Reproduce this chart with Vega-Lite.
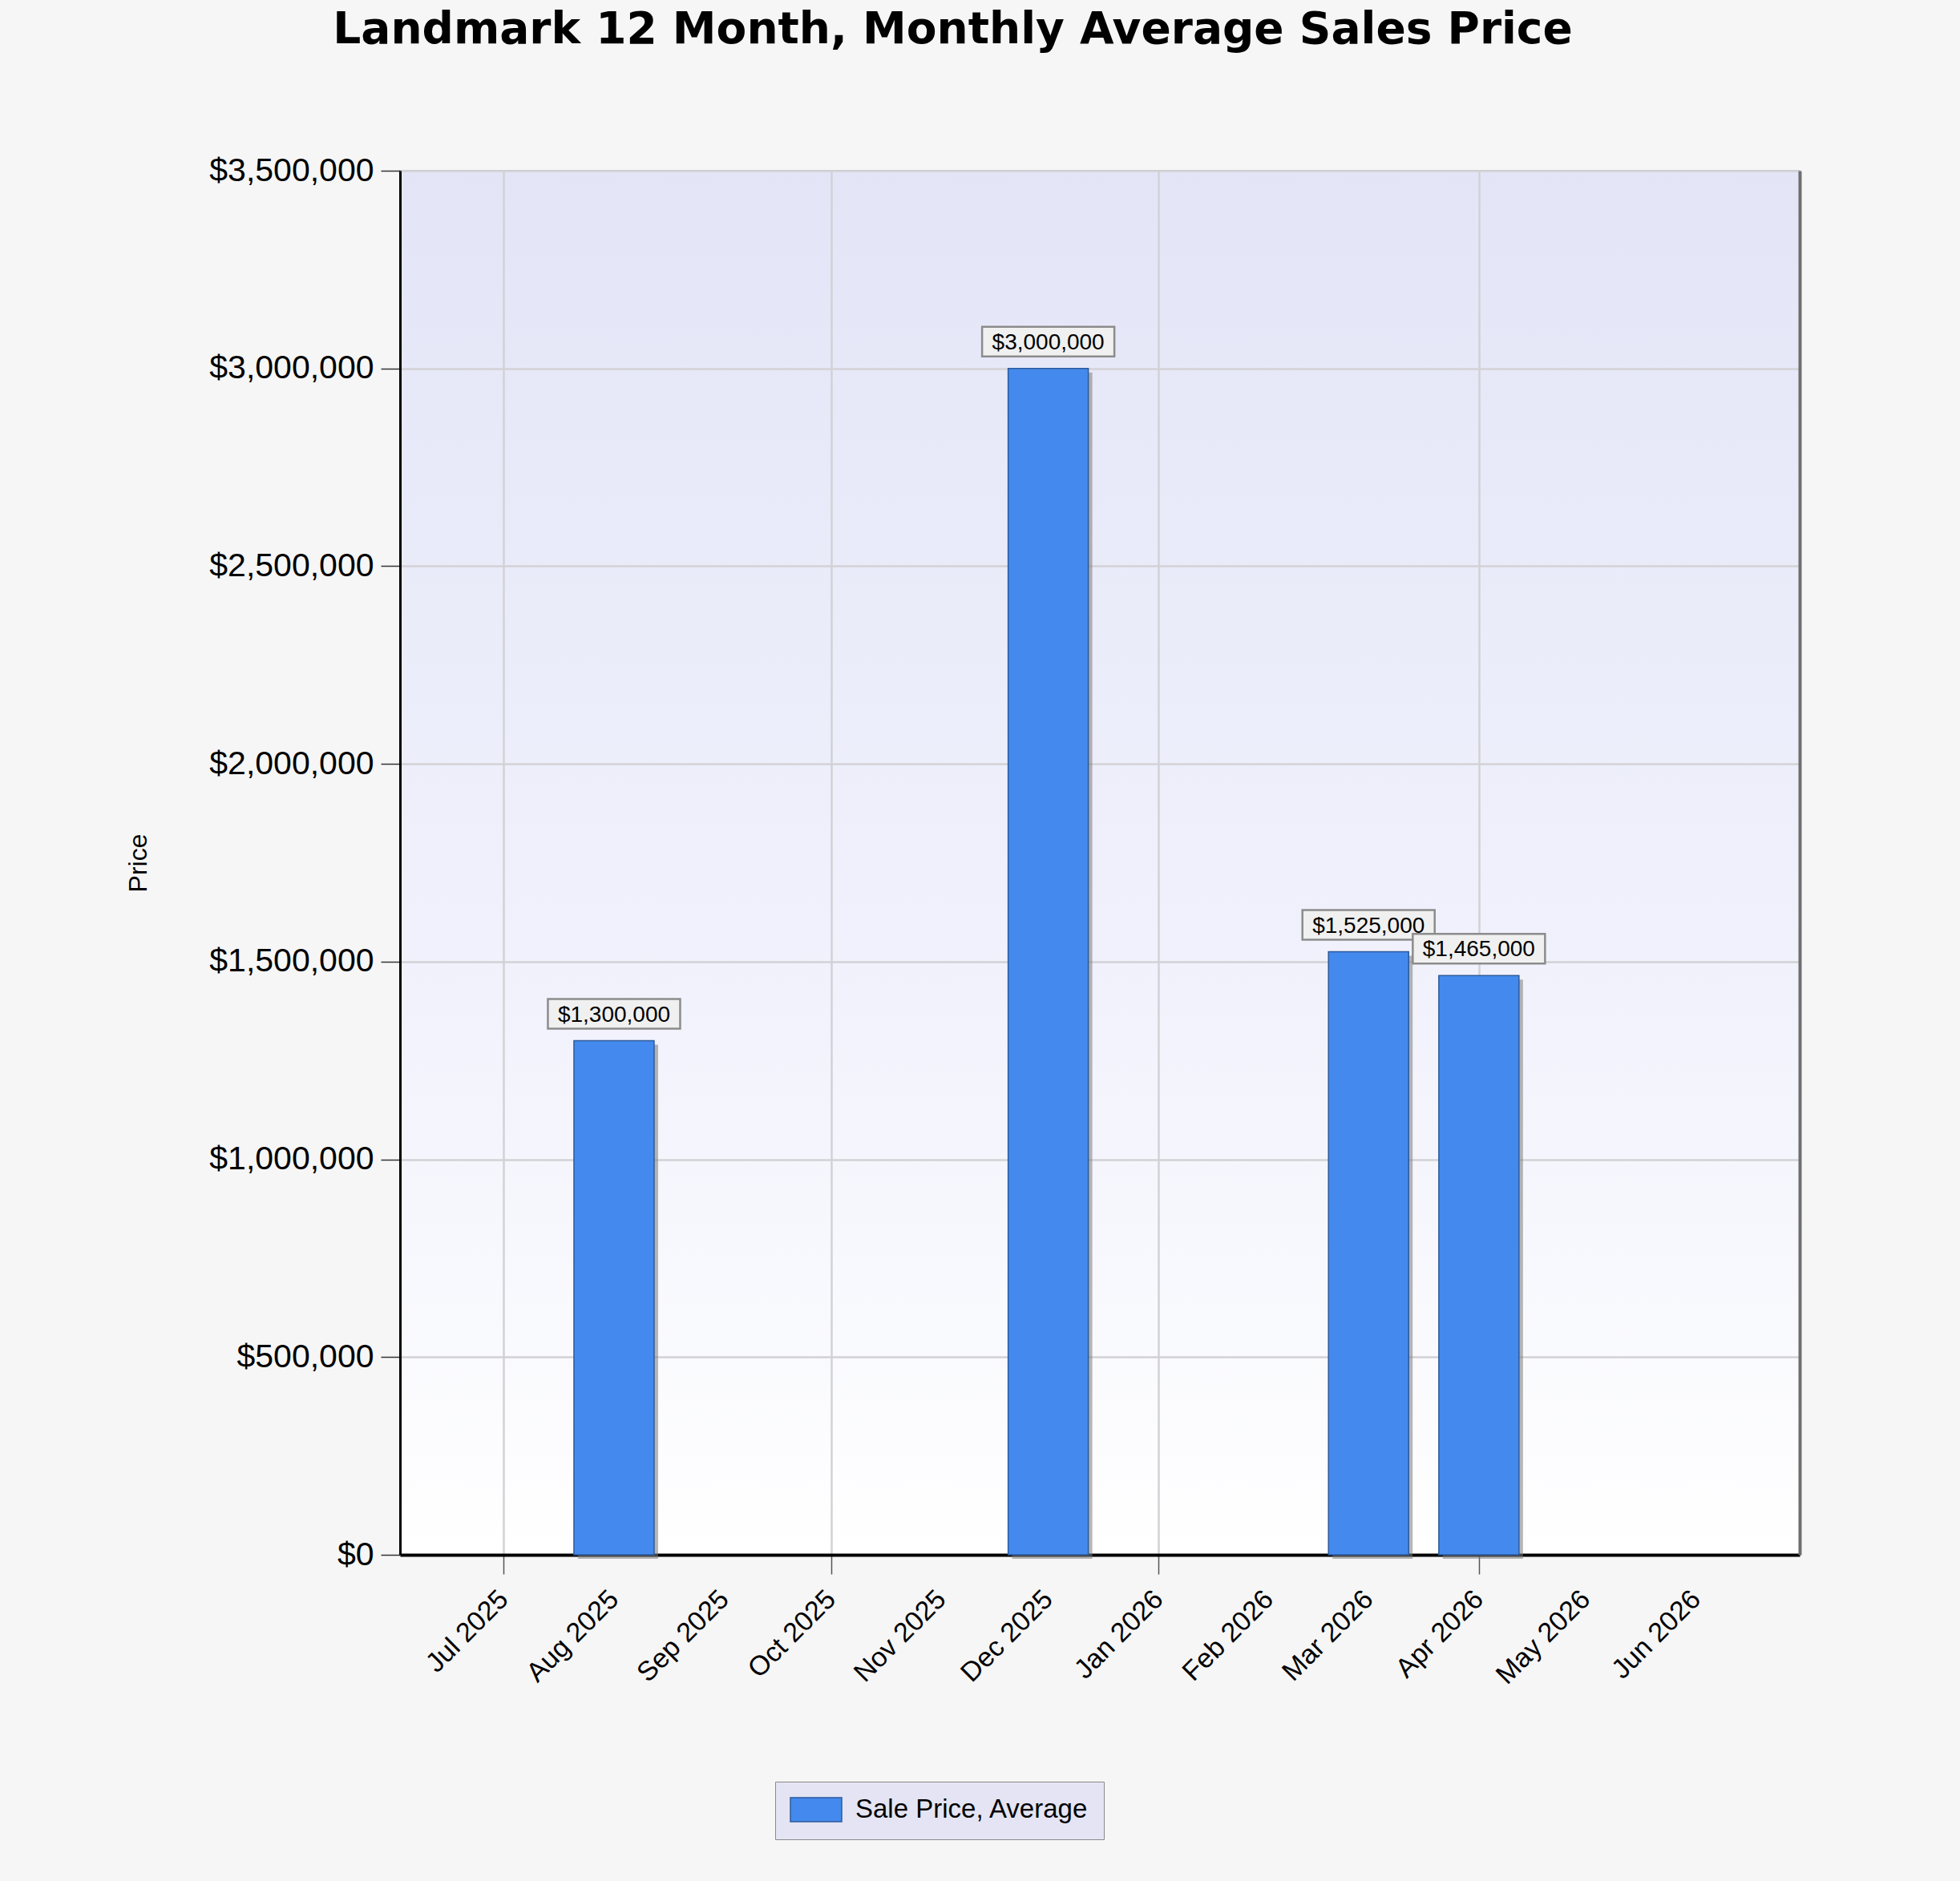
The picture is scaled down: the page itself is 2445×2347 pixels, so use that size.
{
  "$schema": "https://vega.github.io/schema/vega-lite/v6.json",
  "description": "Landmark 12 month, monthly average sales price",
  "width": 1746,
  "height": 1727,
  "autosize": {"type": "none"},
  "padding": {"left": 499, "top": 213, "right": 200, "bottom": 407},
  "background": "#f6f6f6",
  "title": {
    "text": "Landmark 12 Month, Monthly Average Sales Price",
    "font": "DejaVu Sans",
    "fontWeight": "bold",
    "fontSize": 55,
    "color": "#000000",
    "anchor": "middle",
    "frame": "bounds",
    "offset": 126,
    "dx": -12
  },
  "data": {
    "values": [
      {"month": "2025-08-01", "price": 1300000, "series": "Sale Price, Average"},
      {"month": "2025-12-01", "price": 3000000, "series": "Sale Price, Average"},
      {"month": "2026-03-01", "price": 1525000, "series": "Sale Price, Average"},
      {"month": "2026-04-01", "price": 1465000, "series": "Sale Price, Average"}
    ]
  },
  "config": {
    "view": {
      "fill": {
        "gradient": "linear",
        "x1": 0, "y1": 0, "x2": 0, "y2": 1,
        "stops": [
          {"offset": 0, "color": "#e3e5f7"},
          {"offset": 0.6, "color": "#f1f2fc"},
          {"offset": 1, "color": "#ffffff"}
        ]
      },
      "stroke": "#c4c4c8",
      "strokeWidth": 2
    },
    "axis": {
      "zindex": 1,
      "labelFont": "Liberation Sans",
      "labelColor": "#000000",
      "labelLimit": 500,
      "titleFont": "Liberation Sans",
      "titleColor": "#000000",
      "titleFontWeight": "normal",
      "gridColor": "#d2d2d6",
      "gridWidth": 2.5,
      "domainColor": "#000000"
    }
  },
  "encoding": {
    "x": {
      "field": "month",
      "type": "temporal",
      "scale": {
        "type": "utc",
        "domain": [
          {"year": 2025, "month": 6, "date": 3, "utc": true},
          {"year": 2026, "month": 6, "date": 29, "utc": true}
        ]
      },
      "axis": {
        "title": null,
        "format": "%b %Y",
        "tickCount": {"interval": "month", "step": 1},
        "labelAngle": -45,
        "labelAlign": "right",
        "labelBaseline": "middle",
        "labelFontSize": 34,
        "labelPadding": 26,
        "labelOverlap": false,
        "labelFlush": false,
        "tickSize": 24,
        "tickColor": "#555555",
        "tickWidth": 1.5,
        "tickOpacity": {"condition": {"test": "utcmonth(datum.value) % 3 == 0", "value": 1}, "value": 0},
        "grid": true,
        "gridOpacity": {"condition": {"test": "utcmonth(datum.value) % 3 == 0", "value": 1}, "value": 0},
        "domainWidth": 4
      }
    }
  },
  "layer": [
    {
      "mark": {"type": "bar", "width": 100, "color": "#7c7c7c", "opacity": 0.55, "xOffset": 5, "yOffset": 5},
      "encoding": {
        "y": {
          "field": "price",
          "type": "quantitative",
          "scale": {"domain": [0, 3500000]},
          "axis": {
            "title": "Price",
            "titleFontSize": 32,
            "titlePadding": 110,
            "format": "$,.0f",
            "tickCount": 7,
            "labelFontSize": 41,
            "labelPadding": 9,
            "tickSize": 24,
            "tickColor": "#333333",
            "tickWidth": 1.5,
            "grid": true,
            "domainWidth": 3
          }
        }
      }
    },
    {
      "mark": {"type": "bar", "width": 100, "stroke": "#2d5a9a", "strokeWidth": 1.5, "opacity": 1},
      "encoding": {
        "y": {"field": "price", "type": "quantitative", "axis": null},
        "color": {
          "field": "series",
          "type": "nominal",
          "scale": {"range": ["#448aee"]},
          "legend": {
            "title": null,
            "orient": "none",
            "legendX": 468,
            "legendY": 2010,
            "fillColor": "#e4e4f4",
            "strokeColor": "#8a8a8a",
            "padding": 18,
            "symbolType": "M-1,-0.94H3V0.94H-1Z",
            "symbolSize": 1024,
            "symbolStrokeColor": "#2d5a9a",
            "symbolStrokeWidth": 1.5,
            "symbolOpacity": 1,
            "labelFont": "Liberation Sans",
            "labelFontSize": 33,
            "labelLimit": 800,
            "labelColor": "#000000",
            "labelOffset": 48,
            "labelExpr": "datum.label + '\u2007\u2007'"
          }
        }
      }
    },
    {
      "mark": {"type": "rect", "width": 165, "height": 37, "yOffset": -33.5, "fill": "#f0f0f0", "stroke": "#8c8c8c", "strokeWidth": 2.5},
      "encoding": {
        "y": {"field": "price", "type": "quantitative", "axis": null}
      }
    },
    {
      "mark": {"type": "text", "font": "Liberation Sans", "fontSize": 28, "color": "#000000", "align": "center", "baseline": "middle", "yOffset": -32},
      "encoding": {
        "y": {
          "field": "price",
          "type": "quantitative",
          "axis": {
            "orient": "right",
            "title": null,
            "labels": false,
            "ticks": false,
            "grid": false,
            "domainColor": "#6e6e6e",
            "domainWidth": 4
          }
        },
        "text": {"field": "price", "type": "quantitative", "format": "$,.0f"}
      }
    }
  ],
  "resolve": {"axis": {"y": "independent"}}
}
